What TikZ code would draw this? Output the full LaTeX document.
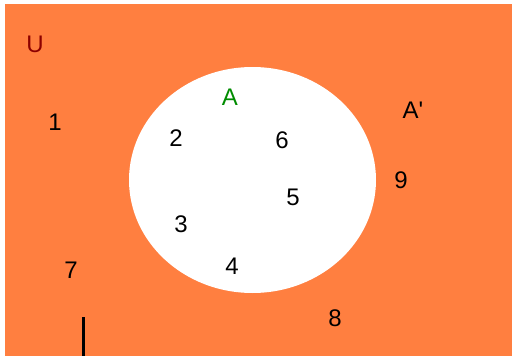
\documentclass[tikz,border=0pt]{standalone}
\usepackage{fontspec}
\setmainfont{Liberation Sans}
\newfontfamily\labelfont{Liberation Sans}
\definecolor{bgorange}{RGB}{255,127,64}
\definecolor{udark}{RGB}{140,0,0}
\definecolor{agreen}{RGB}{0,140,0}
\begin{document}
\begin{tikzpicture}[x=1pt,y=-1pt,
  lbl/.style={inner sep=0pt,font=\labelfont\fontsize{24}{28}\selectfont},
]
\useasboundingbox (0,0) rectangle (512,356);
\fill[white] (0,0) rectangle (512,356);
\fill[bgorange] (5,4) rectangle (512,356);
\fill[white] (252.5,180) ellipse [x radius=123.5, y radius=113];
\node[lbl,text=udark] (U) at (35,44) {U};
\node[lbl,text=agreen] (A) at (230,97) {A};
\node[lbl] (Ac) at (413,110) {A'};
\node[lbl] (n1) at (55,122) {1};
\node[lbl] (n2) at (176,138) {2};
\node[lbl] (n6) at (282,140) {6};
\node[lbl] (n5) at (293,197) {5};
\node[lbl] (n9) at (401,180) {9};
\node[lbl] (n3) at (181,224) {3};
\node[lbl] (n4) at (232,266) {4};
\node[lbl] (n7) at (71,270) {7};
\node[lbl] (n8) at (335,318) {8};
\coordinate (ltop) at (83.5,317);
\coordinate (lbot) at (83.5,356);
\draw[line width=3pt] (ltop) -- (lbot);
\end{tikzpicture}
\end{document}
